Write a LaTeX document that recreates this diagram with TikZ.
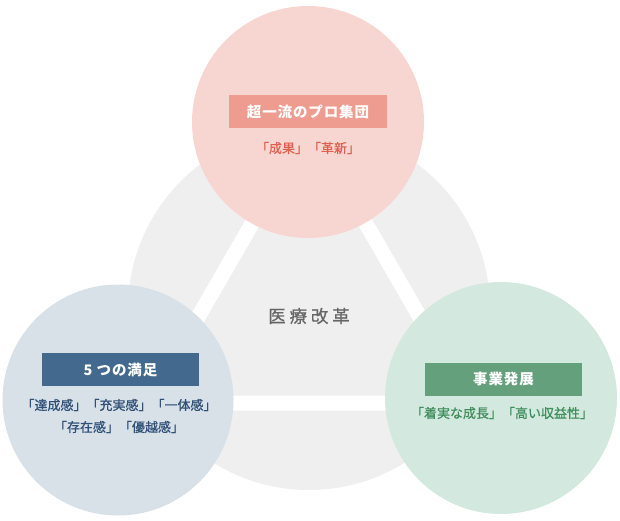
\documentclass[tikz,border=0pt]{standalone}
\usepackage{fontspec}
\newfontfamily\jp{Noto Sans CJK JP}[FakeBold=0.8]
\newfontfamily\jphead{Noto Sans CJK JP}[LetterSpace=6]
\newfontfamily\jpcore{Noto Sans CJK JP}[LetterSpace=22,FakeBold=0.8]
\usetikzlibrary{positioning}
\definecolor{ringgray}{HTML}{EFEFEF}
\definecolor{coregray}{HTML}{666666}
\definecolor{pinkbg}{HTML}{F7D6D2}
\definecolor{pinkbox}{HTML}{EE9C90}
\definecolor{pinktext}{HTML}{E0604F}
\definecolor{bluebg}{HTML}{D8E0E8}
\definecolor{bluebox}{HTML}{436A8E}
\definecolor{bluetext}{HTML}{2F5077}
\definecolor{greenbg}{HTML}{D3E8DF}
\definecolor{greenbox}{HTML}{64A07B}
\definecolor{greentext}{HTML}{3F8E5C}
\tikzset{
  headbox/.style={minimum width=157pt,minimum height=33pt,inner sep=0pt,
    text=white,font=\jphead\bfseries\fontsize{14.5}{16}\selectfont},
  subline/.style={inner sep=0pt,align=center,
    font=\jp\fontsize{13}{22}\selectfont},
}

\begin{document}
\begin{tikzpicture}[x=1pt,y=1pt]
  \useasboundingbox (0,0) rectangle (620,520);
  \coordinate (O) at (309,211);
  \fill[ringgray] (O) circle (181);
  % white triangle under the three circles
  \coordinate (t1) at (309,395);
  \coordinate (t2) at (148.5,117);
  \coordinate (t3) at (469.5,117);
  \draw[white,line width=15pt] (t1) -- (t2) -- (t3) -- cycle;
  \node[font=\jpcore\fontsize{17.5}{20}\selectfont,text=coregray,inner sep=0pt] (core) at (309,204) {医療改革};
  % circle centres
  \coordinate (P) at (308,398);
  \coordinate (S) at (118,120);
  \coordinate (G) at (501,122);
  \fill[pinkbg] (P) circle (116);
  \fill[bluebg] (S) circle (115.5);
  \fill[greenbg] (G) circle (116);
  \node[headbox,fill=pinkbox,minimum width=158pt] (proBox) at (308,408.5) {超一流のプロ集団};
  \node[subline,text=pinktext] (proSub) at (308,372) {「成果」「革新」};
  \node[headbox,fill=bluebox] (satBox) at (120.5,150.5) {5 つの満足};
  \node[subline,text=bluetext] (satSub) at (119,104) {「達成感」「充実感」「一体感」\\「存在感」「優越感」};
  \node[headbox,fill=greenbox] (bizBox) at (503.5,141) {事業発展};
  \node[subline,text=greentext] (bizSub) at (502,107) {「着実な成長」「高い収益性」};
\end{tikzpicture}
\end{document}
